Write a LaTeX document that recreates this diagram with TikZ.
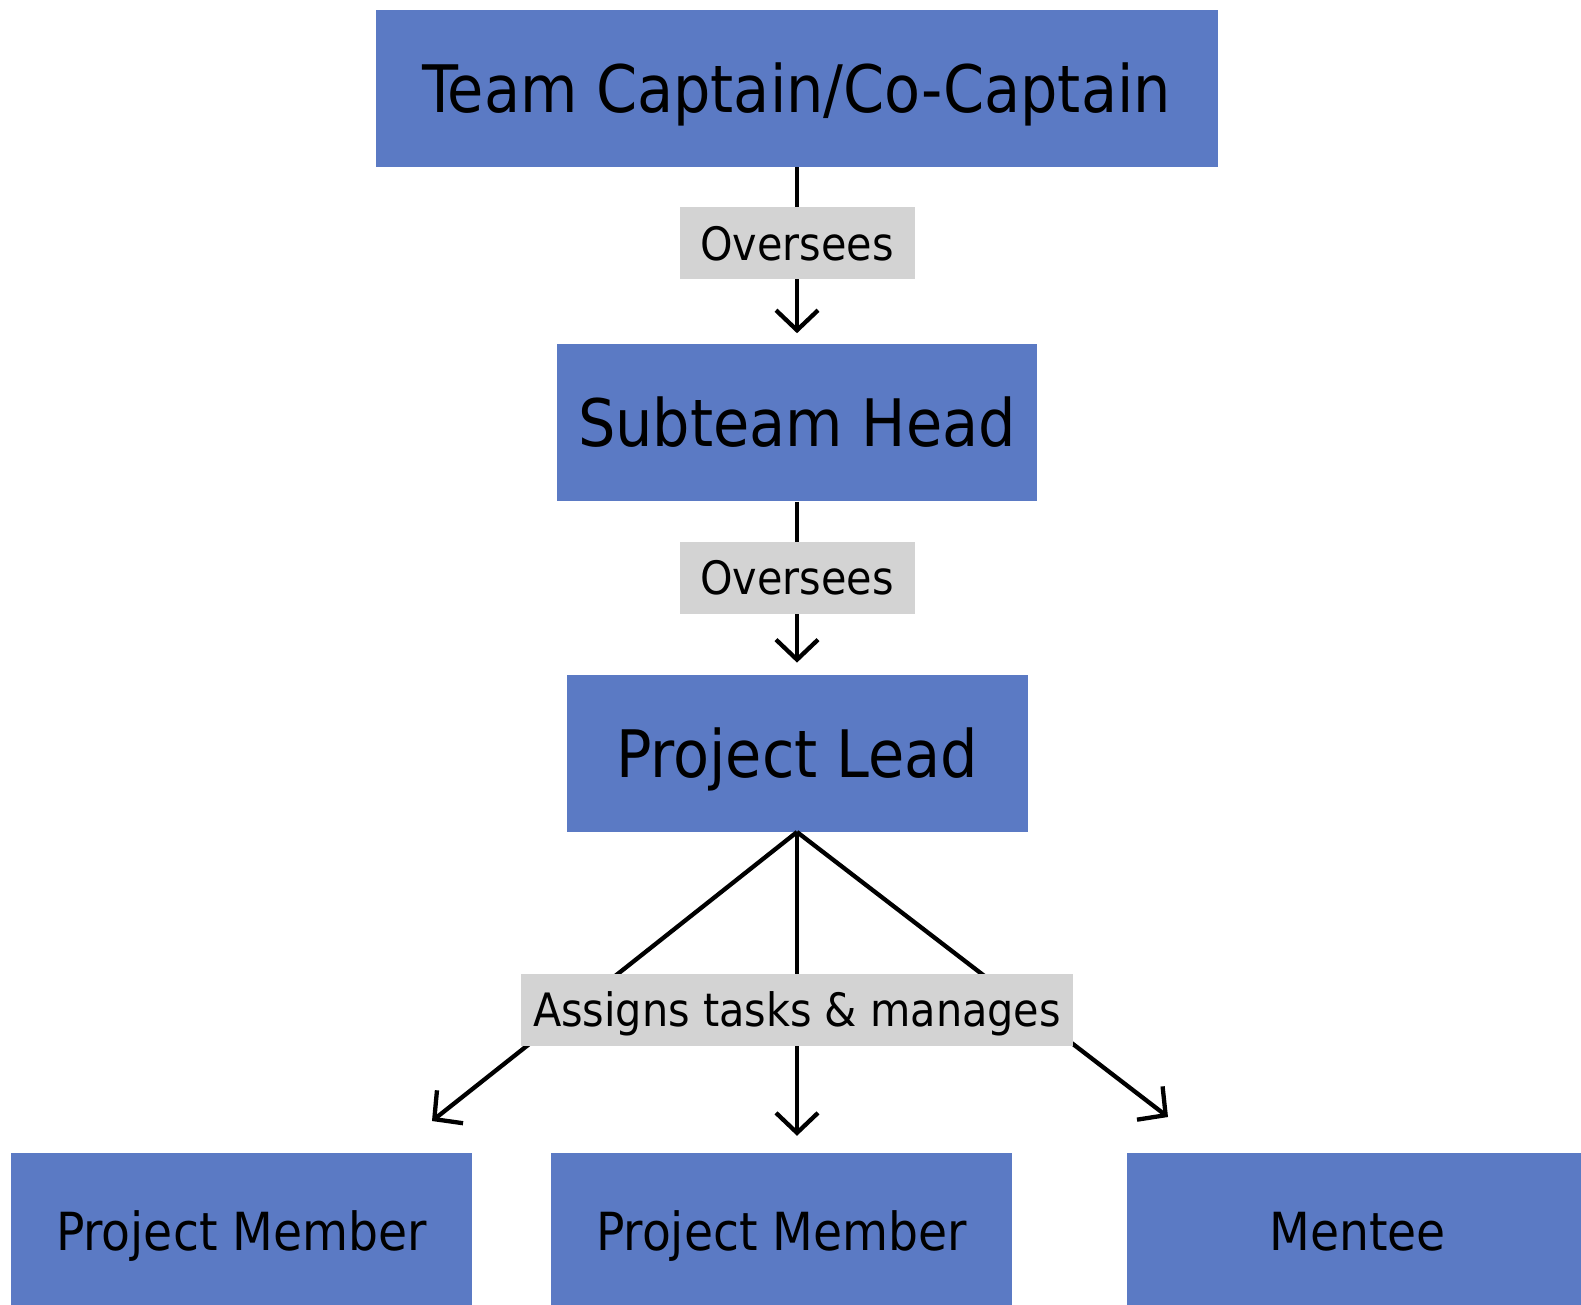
\documentclass[tikz,border=0pt]{standalone}
\usepackage{fontspec}
\setmainfont{DejaVu Sans Condensed}
\usepackage{tikz}
\usetikzlibrary{calc, positioning, arrows.meta}
\definecolor{boxblue}{HTML}{5B7AC4}
\definecolor{lblgray}{HTML}{D3D3D3}
\tikzstyle{role}   = [rectangle, minimum height=157pt, text centered, fill=boxblue, inner sep=0pt, text depth=0pt]
\tikzstyle{bigrole}   = [role, text height=47.5pt, font=\fontsize{65.5}{76}\selectfont]
\tikzstyle{smallrole} = [role, minimum width=461pt, text height=38pt, font=\fontsize{52.5}{62}\selectfont]
\tikzstyle{lbl}    = [rectangle, minimum height=72pt, inner xsep=12pt, fill=lblgray, text height=33.5pt, text depth=0pt, font=\fontsize{46}{52}\selectfont]
\tikzstyle{arrow}  = [line width=4.3pt, -{Straight Barb[length=20pt, width=42pt, line width=4.3pt]}]

\begin{document}
\begin{tikzpicture}[x=1pt, y=-1pt]
    \useasboundingbox (0,0) rectangle (1581,1304);

    \node (TC) [bigrole, minimum width=842pt] at (797,88.5) {Team Captain/Co-Captain};
    \node (SH) [bigrole, minimum width=480pt, below=177pt of TC] {Subteam Head};
    \node (PL) [bigrole, minimum width=461pt, below=173pt of SH] {Project Lead};
    \node (PM1) [smallrole] at (241.5,1231.5) {Project Member};
    \node (PM2) [smallrole] at (781.5,1231.5) {Project Member};
    \node (M)   [smallrole] at (1357.5,1231.5) {Mentee};

    \coordinate (tipL) at (432,1121);
    \coordinate (tipR) at (1168,1117);

    \draw [arrow, shorten >=11pt] (TC) -- node [lbl, minimum width=235pt, pos=0.43] (o1) {Oversees} (SH);
    \draw [arrow, shorten >=12pt] (SH) -- node [lbl, minimum width=235pt, pos=0.44] (o2) {Oversees} (PL);
    \draw [arrow] (PL.south) -- (tipL);
    \draw [arrow] (PL.south) -- (tipR);
    \draw [arrow, shorten >=17pt] (PL.south) -- node [lbl, pos=0.555] (a) {Assigns tasks \& manages} (PL.south |- PM2.north);
\end{tikzpicture}
\end{document}
